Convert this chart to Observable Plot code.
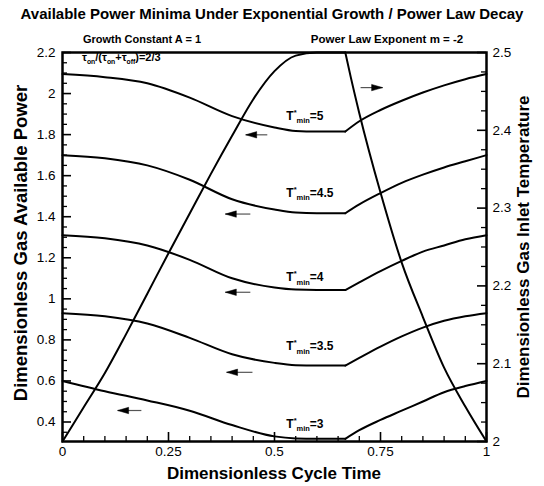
<!DOCTYPE html>
<html><head><meta charset="utf-8">
<script src="https://cdn.jsdelivr.net/npm/d3@7"></script>
<script src="https://cdn.jsdelivr.net/npm/@observablehq/plot@0.6"></script>
<style>
body{margin:0;background:#fff;}
</style></head><body><div id="chart"></div>
<script>
// ---------- data ----------
const cycleTime   = [0, 0.1, 0.2, 0.3, 0.4, 0.5, 0.55, 0.6, 0.667, 0.7, 0.75, 0.8, 0.85, 0.9, 0.95, 1];
const powerTmin5  = [2.095, 2.08, 2.05, 1.98, 1.89, 1.835, 1.818, 1.815, 1.815, 1.865, 1.92, 1.965, 2.005, 2.04, 2.07, 2.095];
const powerTmin45 = [1.70, 1.685, 1.65, 1.58, 1.485, 1.435, 1.42, 1.417, 1.417, 1.46, 1.515, 1.565, 1.605, 1.64, 1.67, 1.70];
const powerTmin4  = [1.31, 1.295, 1.26, 1.19, 1.10, 1.055, 1.045, 1.043, 1.043, 1.08, 1.135, 1.185, 1.23, 1.26, 1.29, 1.31];
const powerTmin35 = [0.93, 0.915, 0.88, 0.81, 0.73, 0.688, 0.677, 0.675, 0.675, 0.712, 0.767, 0.817, 0.86, 0.893, 0.915, 0.93];
const powerTmin3  = [0.60, 0.55, 0.505, 0.455, 0.385, 0.33, 0.32, 0.318, 0.318, 0.36, 0.41, 0.455, 0.50, 0.545, 0.575, 0.60];
const tminValues  = ["5", "4.5", "4", "3.5", "3"];
const powerSeries = [powerTmin5, powerTmin45, powerTmin4, powerTmin35, powerTmin3];

const tempTime  = [0, 0.05, 0.1, 0.15, 0.2, 0.25, 0.3, 0.35, 0.4, 0.45, 0.5, 0.55, 0.6, 0.667, 0.68, 0.7, 0.75, 0.8, 0.85, 0.9, 0.95, 1];
const tempValue = [2.0, 2.044, 2.088, 2.138, 2.19, 2.242, 2.293, 2.344, 2.393, 2.44, 2.476, 2.496, 2.5, 2.5, 2.468, 2.422, 2.32, 2.23, 2.16, 2.095, 2.045, 2.0];
const kinkTime = 0.667;

// label anchors (data coords)
const labelTime  = [0.528, 0.528, 0.528, 0.528, 0.528];
const labelPower = [1.873, 1.497, 1.086, 0.749, 0.373];

// arrows (data coords): tail -> head
const arrowTail  = [0.483, 0.443, 0.443, 0.448, 0.186, 0.703];
const arrowHead  = [0.432, 0.384, 0.384, 0.387, 0.130, 0.755];
const arrowLevel = [1.799, 1.413, 1.032, 0.642, 0.456, 2.029];

// axes
const xMajor = [0, 0.25, 0.5, 0.75, 1];
const xMajorLabels = ["0", "0.25", "0.5", "0.75", "1"];
const yMajor = [0.4, 0.6, 0.8, 1.0, 1.2, 1.4, 1.6, 1.8, 2.0, 2.2];
const yMajorLabels = ["0.4", "0.6", "0.8", "1", "1.2", "1.4", "1.6", "1.8", "2", "2.2"];
const tMajor = [2.0, 2.1, 2.2, 2.3, 2.4, 2.5];
const tMajorLabels = ["2", "2.1", "2.2", "2.3", "2.4", "2.5"];
const yDomain = [0.305, 2.2];
const tDomain = [2.0, 2.5];

// ---------- layout ----------
const W = 544, H = 486, ML = 62, MR = 58, MT = 52, MB = 45;
const frameW = W - ML - MR, frameH = H - MT - MB;
const FONT = '"Liberation Sans", Arial, Helvetica, sans-serif';

const toLeft = T => yDomain[0] + (T - tDomain[0]) * (yDomain[1] - yDomain[0]) / (tDomain[1] - tDomain[0]);

// minor ticks
const range = (a, b, s) => d3.range(Math.round(a / s), Math.round(b / s) + 1).map(i => +(i * s).toFixed(4));
const near = (arr, v) => arr.some(m => Math.abs(m - v) < 1e-6);
const xMinor = range(0, 1, 0.05).filter(v => !near(xMajor, v));
const yMinor = range(0.35, 2.2, 0.05).filter(v => !near(yMajor, v));
const tMinor = range(2.0, 2.5, 0.025).filter(v => !near(tMajor, v));

// rows
const powerRows = [];
powerSeries.forEach((vals, s) => {
  cycleTime.forEach((t, i) => {
    if (t <= kinkTime + 1e-9) powerRows.push({key: s + "a", t, v: vals[i]});
    if (t >= kinkTime - 1e-9) powerRows.push({key: s + "b", t, v: vals[i]});
  });
});
const tempRows = [];
tempTime.forEach((t, i) => {
  if (t <= kinkTime + 1e-9) tempRows.push({key: "a", t, v: toLeft(tempValue[i])});
  if (t >= kinkTime - 1e-9) tempRows.push({key: "b", t, v: toLeft(tempValue[i])});
});
const labelRows = tminValues.map((m, i) => ({m, t: labelTime[i], v: labelPower[i]}));
const arrowRows = arrowTail.map((t, i) => ({tail: t, head: arrowHead[i], v: arrowLevel[i], left: arrowHead[i] < t}));

const headLeft = {draw(ctx) { ctx.moveTo(0, 0); ctx.lineTo(11, -3.2); ctx.lineTo(11, 3.2); ctx.closePath(); }};
const headRight = {draw(ctx) { ctx.moveTo(0, 0); ctx.lineTo(-11, -3.2); ctx.lineTo(-11, 3.2); ctx.closePath(); }};

const plot = Plot.plot({
  width: W, height: H,
  marginLeft: ML, marginRight: MR, marginTop: MT, marginBottom: MB,
  style: {fontFamily: FONT, background: "white", color: "black"},
  x: {domain: [0, 1]},
  y: {domain: yDomain},
  marks: [
    // ticks (inward)
    Plot.tickX(xMajor, {x: d => d, insetTop: frameH - 9, stroke: "black", strokeWidth: 1.6}),
    Plot.tickX(xMinor, {x: d => d, insetTop: frameH - 5, stroke: "black", strokeWidth: 1.3}),
    Plot.tickY(yMajor, {y: d => d, insetRight: frameW - 9, stroke: "black", strokeWidth: 1.6}),
    Plot.tickY(yMinor, {y: d => d, insetRight: frameW - 5, stroke: "black", strokeWidth: 1.3}),
    Plot.tickY(tMajor.map(toLeft), {y: d => d, insetLeft: frameW - 9, stroke: "black", strokeWidth: 1.6}),
    Plot.tickY(tMinor.map(toLeft), {y: d => d, insetLeft: frameW - 5, stroke: "black", strokeWidth: 1.3}),
    // axes labels
    Plot.axisX(xMajor, {tickSize: 0, tickPadding: 5, fontSize: 13.5, label: null,
      tickFormat: d => xMajorLabels[xMajor.indexOf(d)]}),
    Plot.axisY(yMajor, {anchor: "left", tickSize: 0, tickPadding: 7, fontSize: 13.5, label: null,
      tickFormat: d => yMajorLabels[yMajor.indexOf(d)]}),
    Plot.axisY(tMajor.map(toLeft), {anchor: "right", tickSize: 0, tickPadding: 6, fontSize: 13.5, label: null,
      tickFormat: d => tMajorLabels[tMajor.map(toLeft).findIndex(v => Math.abs(v - d) < 1e-9)]}),
    // curves
    Plot.line(powerRows, {x: "t", y: "v", z: "key", curve: "monotone-x", stroke: "black", strokeWidth: 2}),
    Plot.line(tempRows, {x: "t", y: "v", z: "key", curve: "monotone-x", stroke: "black", strokeWidth: 2}),
    // arrows
    Plot.link(arrowRows, {x1: "tail", x2: "head", y1: "v", y2: "v", stroke: "#555", strokeWidth: 1.2}),
    Plot.dot(arrowRows.filter(d => d.left), {x: "head", y: "v", symbol: headLeft, fill: "black", stroke: "black", strokeWidth: 0.5}),
    Plot.dot(arrowRows.filter(d => !d.left), {x: "head", y: "v", symbol: headRight, fill: "black", stroke: "black", strokeWidth: 0.5}),
    // T*min labels
    Plot.text(labelRows, {x: "t", y: "v", text: d => "T*min=" + d.m, textAnchor: "start", lineAnchor: "bottom",
      fontSize: 12, fontWeight: "bold"}),
    Plot.frame({stroke: "black", strokeWidth: 2.5})
  ]
});

const svg = d3.select(plot);

function setRich(el, parts, size) {
  const sel = d3.select(el);
  sel.text(null);
  let shift = 0;
  for (const p of parts) {
    const target = p.sup ? -0.42 * size : p.sub ? 0.3 * size : 0;
    sel.append("tspan").attr("dy", target - shift)
      .attr("font-size", (p.sup || p.sub) ? size * 0.62 : size).text(p.t);
    shift = target;
  }
}

svg.selectAll("text").filter(function() { return /^T\*min=/.test(this.textContent); })
  .each(function() {
    const m = this.textContent.replace("T*min=", "");
    setRich(this, [{t: "T"}, {t: "*", sup: true}, {t: "min", sub: true}, {t: "=" + m}], 12);
  });

function addText(x, y, str, size, opts = {}) {
  const t = svg.append("text").attr("x", x).attr("y", y)
    .attr("font-size", size).attr("font-weight", "bold")
    .attr("text-anchor", opts.anchor || "middle").attr("fill", "black")
    .style("font-family", FONT);
  if (opts.rotate) t.attr("transform", `rotate(${opts.rotate},${x},${y})`);
  t.text(str);
  return t;
}

addText(272, 19, "Available Power Minima Under Exponential Growth / Power Law Decay", 15);
addText(274, 479, "Dimensionless Cycle Time", 17);
addText(27, 243, "Dimensionless Gas Available Power", 18.5, {rotate: -90});
addText(529, 247, "Dimensionless Gas Inlet Temperature", 17, {rotate: -90});
addText(142, 43, "Growth Constant A = 1", 11);
addText(387, 43, "Power Law Exponent m = -2", 11.5);
const tau = addText(82, 61, "", 11, {anchor: "start"});
setRich(tau.node(), [{t: "τ"}, {t: "on", sub: true}, {t: "/(τ"}, {t: "on", sub: true}, {t: "+τ"}, {t: "off", sub: true}, {t: ")=2/3"}], 11);

document.getElementById("chart").appendChild(plot);
</script>
</body></html>
